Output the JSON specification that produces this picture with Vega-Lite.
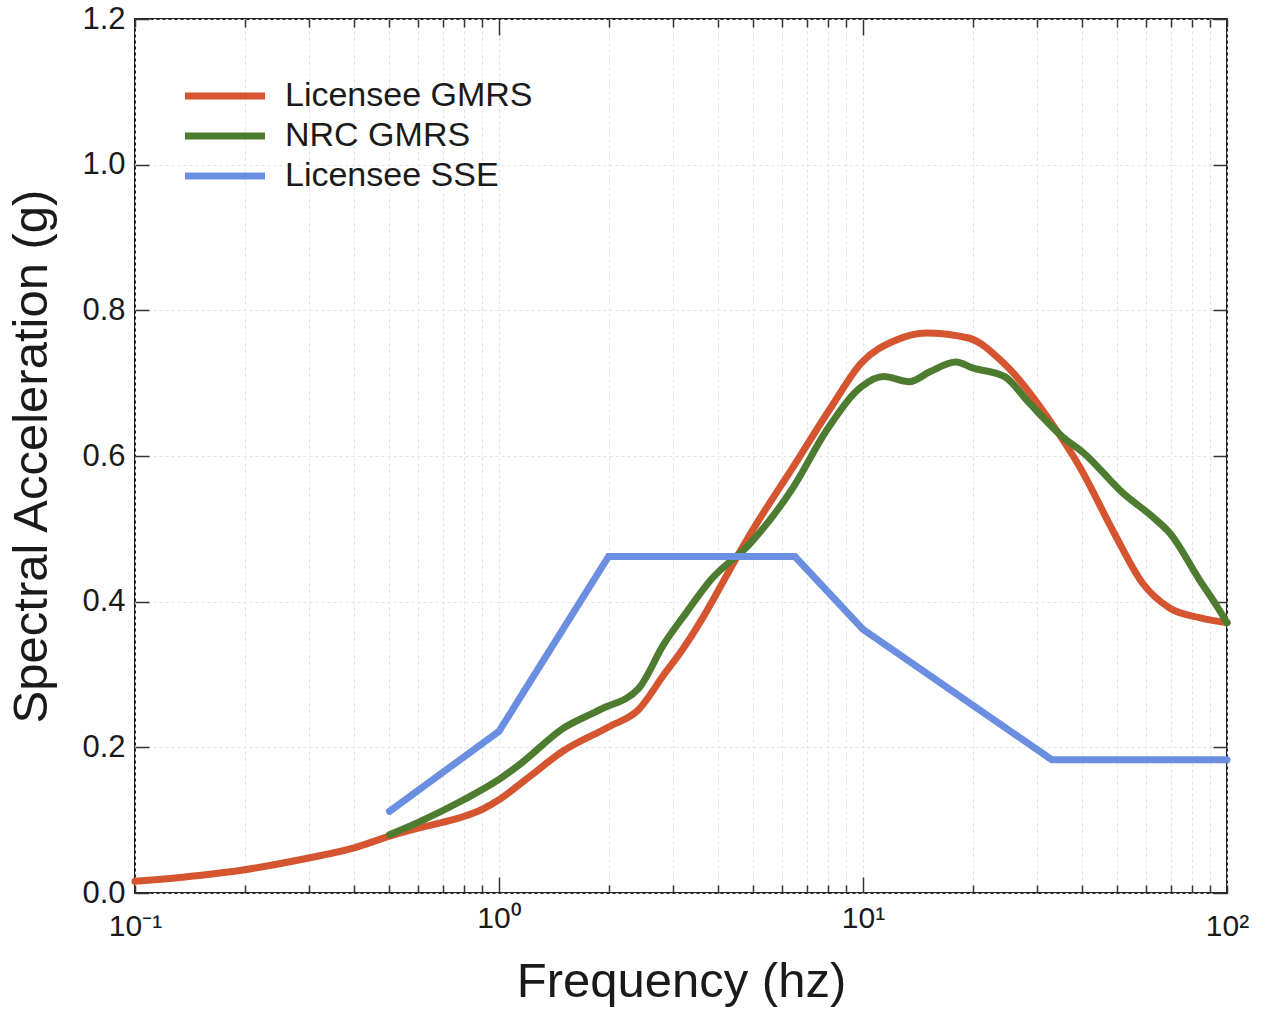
{
  "$schema": "https://vega.github.io/schema/vega-lite/v6.json",
  "autosize": "none",
  "padding": {"left": 135, "top": 19, "right": 44, "bottom": 119},
  "width": 1092,
  "height": 874,
  "background": "white",
  "config": {
    "font": "Liberation Sans",
    "view": {"stroke": "#222222", "strokeWidth": 2},
    "axis": {"domain": false, "labelFont": "Liberation Sans", "titleFont": "Liberation Sans", "labelColor": "#1a1a1a", "titleColor": "#1a1a1a", "tickColor": "#333333", "titleFontWeight": "normal"}
  },
  "data": {
    "values": [
      {"series": "Licensee GMRS", "f": 0.1, "sa": 0.016},
      {"series": "Licensee GMRS", "f": 0.15, "sa": 0.024},
      {"series": "Licensee GMRS", "f": 0.2, "sa": 0.032},
      {"series": "Licensee GMRS", "f": 0.3, "sa": 0.048},
      {"series": "Licensee GMRS", "f": 0.4, "sa": 0.062},
      {"series": "Licensee GMRS", "f": 0.5, "sa": 0.078},
      {"series": "Licensee GMRS", "f": 0.6, "sa": 0.089},
      {"series": "Licensee GMRS", "f": 0.7, "sa": 0.097},
      {"series": "Licensee GMRS", "f": 0.8, "sa": 0.105},
      {"series": "Licensee GMRS", "f": 0.9, "sa": 0.115},
      {"series": "Licensee GMRS", "f": 1.0, "sa": 0.128},
      {"series": "Licensee GMRS", "f": 1.2, "sa": 0.158},
      {"series": "Licensee GMRS", "f": 1.5, "sa": 0.195},
      {"series": "Licensee GMRS", "f": 2.0, "sa": 0.228},
      {"series": "Licensee GMRS", "f": 2.42, "sa": 0.252},
      {"series": "Licensee GMRS", "f": 2.84, "sa": 0.3},
      {"series": "Licensee GMRS", "f": 3.2, "sa": 0.335},
      {"series": "Licensee GMRS", "f": 3.6, "sa": 0.375},
      {"series": "Licensee GMRS", "f": 4.0, "sa": 0.415},
      {"series": "Licensee GMRS", "f": 4.5, "sa": 0.461},
      {"series": "Licensee GMRS", "f": 5.0, "sa": 0.5},
      {"series": "Licensee GMRS", "f": 6.43, "sa": 0.585},
      {"series": "Licensee GMRS", "f": 8.17, "sa": 0.667},
      {"series": "Licensee GMRS", "f": 9.9, "sa": 0.728},
      {"series": "Licensee GMRS", "f": 12.3, "sa": 0.759},
      {"series": "Licensee GMRS", "f": 14.9, "sa": 0.769},
      {"series": "Licensee GMRS", "f": 19.5, "sa": 0.762},
      {"series": "Licensee GMRS", "f": 24.3, "sa": 0.728},
      {"series": "Licensee GMRS", "f": 33.5, "sa": 0.64},
      {"series": "Licensee GMRS", "f": 39.4, "sa": 0.585},
      {"series": "Licensee GMRS", "f": 49, "sa": 0.494},
      {"series": "Licensee GMRS", "f": 58.5, "sa": 0.426},
      {"series": "Licensee GMRS", "f": 69.7, "sa": 0.391},
      {"series": "Licensee GMRS", "f": 84, "sa": 0.378},
      {"series": "Licensee GMRS", "f": 100, "sa": 0.371},
      {"series": "NRC GMRS", "f": 0.5, "sa": 0.08},
      {"series": "NRC GMRS", "f": 0.6, "sa": 0.097},
      {"series": "NRC GMRS", "f": 0.8, "sa": 0.128},
      {"series": "NRC GMRS", "f": 1.0, "sa": 0.156},
      {"series": "NRC GMRS", "f": 1.15, "sa": 0.178},
      {"series": "NRC GMRS", "f": 1.5, "sa": 0.226},
      {"series": "NRC GMRS", "f": 1.9, "sa": 0.252},
      {"series": "NRC GMRS", "f": 2.42, "sa": 0.281},
      {"series": "NRC GMRS", "f": 2.84, "sa": 0.342},
      {"series": "NRC GMRS", "f": 3.27, "sa": 0.385},
      {"series": "NRC GMRS", "f": 3.82, "sa": 0.43},
      {"series": "NRC GMRS", "f": 4.9, "sa": 0.48},
      {"series": "NRC GMRS", "f": 6.43, "sa": 0.557},
      {"series": "NRC GMRS", "f": 7.96, "sa": 0.636},
      {"series": "NRC GMRS", "f": 9.9, "sa": 0.695},
      {"series": "NRC GMRS", "f": 11.4, "sa": 0.709},
      {"series": "NRC GMRS", "f": 13.4, "sa": 0.702},
      {"series": "NRC GMRS", "f": 15.3, "sa": 0.716},
      {"series": "NRC GMRS", "f": 18.0, "sa": 0.729},
      {"series": "NRC GMRS", "f": 20.0, "sa": 0.721},
      {"series": "NRC GMRS", "f": 24.5, "sa": 0.709},
      {"series": "NRC GMRS", "f": 28.6, "sa": 0.673},
      {"series": "NRC GMRS", "f": 35.4, "sa": 0.626},
      {"series": "NRC GMRS", "f": 40.4, "sa": 0.604},
      {"series": "NRC GMRS", "f": 51.8, "sa": 0.549},
      {"series": "NRC GMRS", "f": 62.6, "sa": 0.516},
      {"series": "NRC GMRS", "f": 69.7, "sa": 0.494},
      {"series": "NRC GMRS", "f": 84, "sa": 0.43},
      {"series": "NRC GMRS", "f": 94, "sa": 0.393},
      {"series": "NRC GMRS", "f": 100, "sa": 0.371},
      {"series": "Licensee SSE", "f": 0.5, "sa": 0.112},
      {"series": "Licensee SSE", "f": 1.0, "sa": 0.222},
      {"series": "Licensee SSE", "f": 2.0, "sa": 0.462},
      {"series": "Licensee SSE", "f": 6.5, "sa": 0.462},
      {"series": "Licensee SSE", "f": 10, "sa": 0.362},
      {"series": "Licensee SSE", "f": 33, "sa": 0.183},
      {"series": "Licensee SSE", "f": 100, "sa": 0.183}
    ]
  },
  "encoding": {
    "x": {"field": "f", "type": "quantitative", "scale": {"type": "log", "domain": [0.1, 100], "nice": false}, "axis": null},
    "y": {"field": "sa", "type": "quantitative", "scale": {"domain": [0, 1.2], "nice": false, "zero": false}, "axis": null}
  },
  "layer": [
    {
      "mark": {"type": "line", "opacity": 0},
      "encoding": {
        "x": {"field": "f", "type": "quantitative", "axis": {"orient": "top", "title": null, "labels": false, "grid": false, "values": [0.1,0.2,0.3,0.4,0.5,0.6,0.7,0.8,0.9,1,2,3,4,5,6,7,8,9,10,20,30,40,50,60,70,80,90,100], "tickSize": {"condition": {"test": "datum.value == 1 || datum.value == 10", "value": -16}, "value": -8}, "tickWidth": 1.5}},
        "y": {"field": "sa", "type": "quantitative", "axis": {"orient": "right", "title": null, "labels": false, "grid": false, "values": [0,0.2,0.4,0.6,0.8,1.0,1.2], "tickSize": -14, "tickWidth": 1.5}}
      }
    },
    {
      "transform": [{"filter": "datum.series != 'Licensee SSE'"}],
      "mark": {"type": "line", "strokeWidth": 7, "interpolate": "monotone", "strokeCap": "round"},
      "encoding": {
        "x": {"field": "f", "type": "quantitative", "axis": {"orient": "bottom", "title": "Frequency (hz)", "titleFontSize": 49, "titlePadding": 16, "labelFontSize": 30, "labelPadding": 26, "values": [0.1,0.2,0.3,0.4,0.5,0.6,0.7,0.8,0.9,1,2,3,4,5,6,7,8,9,10,20,30,40,50,60,70,80,90,100], "labelExpr": "datum.value == 0.1 ? '10⁻¹' : datum.value == 1 ? '10⁰' : datum.value == 10 ? '10¹' : datum.value == 100 ? '10²' : ''", "labelOverlap": false, "labelFlush": false, "tickSize": {"condition": {"test": "datum.value == 1 || datum.value == 10", "value": -16}, "value": -8}, "tickWidth": 1.5, "grid": true, "gridColor": "#dde4ee", "gridDash": [3, 3], "gridWidth": 1}},
        "y": {"field": "sa", "type": "quantitative", "axis": {"orient": "left", "title": "Spectral Acceleration (g)", "titleFontSize": 49, "titlePadding": 25, "labelFontSize": 31, "labelPadding": 24, "values": [0,0.2,0.4,0.6,0.8,1.0,1.2], "format": ".1f", "tickSize": -14, "tickWidth": 1.5, "grid": true, "gridColor": "#dde4ee", "gridDash": [3, 3], "gridWidth": 1}},
        "color": {"field": "series", "type": "nominal", "scale": {"domain": ["Licensee GMRS", "NRC GMRS", "Licensee SSE"], "range": ["#d4552f", "#4d7c30", "#6a8ee0"]},
          "legend": {"orient": "none", "legendX": 73, "legendY": 60, "title": null, "labelFontSize": 34, "labelFont": "Liberation Sans", "labelColor": "#1a1a1a", "labelLimit": 500, "symbolType": "M-4,0H4", "symbolSize": 400, "symbolStrokeWidth": 7, "labelOffset": 43, "rowPadding": 6, "padding": 0}}
      }
    },
    {
      "transform": [{"filter": "datum.series == 'Licensee SSE'"}],
      "mark": {"type": "line", "strokeWidth": 7, "strokeCap": "round"},
      "encoding": {
        "color": {"field": "series", "type": "nominal"}
      }
    }
  ]
}
